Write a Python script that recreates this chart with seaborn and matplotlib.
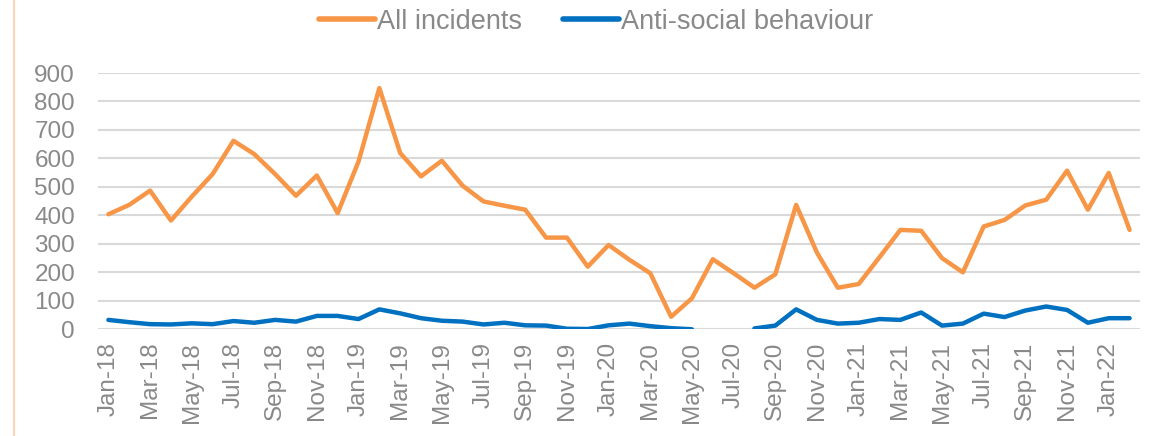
import numpy as np
import pandas as pd
import matplotlib
matplotlib.use("Agg")
import matplotlib.pyplot as plt
from matplotlib.lines import Line2D
import seaborn as sns

# monthly counts, Jan-18 .. Feb-22
months = pd.date_range("2018-01-01", "2022-02-01", freq="MS").strftime("%b-%y").tolist()

all_incidents = [404, 437, 487, 382, 466, 545, 662, 615, 545, 469, 540, 408,
                 589, 847, 619, 537, 592, 504, 449, 434, 420, 322, 322, 220,
                 296, 244, 197, 44, 109, 246, 197, 146, 193, 437, 269, 146,
                 159, 253, 349, 346, 250, 200, 361, 384, 435, 455, 557, 420,
                 549, 349]

anti_social = [33, 25, 18, 17, 21, 18, 29, 23, 33, 27, 47, 47,
               36, 70, 56, 39, 30, 27, 17, 23, 14, 13, 2, 1,
               14, 20, 11, 4, 0, np.nan, np.nan, 3, 13, 70, 33, 20,
               23, 36, 33, 59, 13, 20, 55, 43, 66, 80, 68, 23,
               39, 39]

series_names = ["All incidents", "Anti-social behaviour"]
colours = ["#F79646", "#0070C0"]

df = pd.DataFrame({"idx": range(len(months)), "month": months,
                   series_names[0]: all_incidents, series_names[1]: anti_social})
long = df.melt(id_vars=["idx", "month"], value_vars=series_names,
               var_name="series", value_name="count")

sns.set_style("white")
plt.rcParams["font.family"] = ["Liberation Sans", "DejaVu Sans"]
grey = "#898989"

fig = plt.figure(figsize=(11.51, 4.36), dpi=100)
ax = fig.add_axes([98 / 1151, 1 - 329.3 / 436, (1140 - 98) / 1151, (329.3 - 73) / 436])

for name, col in zip(series_names, colours):
    sub = long[long["series"] == name]
    # draw each unbroken run separately so gaps stay gaps
    ok = sub["count"].notna()
    run_id = (~ok).cumsum()
    for _, seg in sub[ok].groupby(run_id[ok]):
        sns.lineplot(data=seg, x="idx", y="count", color=col, linewidth=3.2,
                     ax=ax, legend=False, solid_capstyle="round")

ax.set_xlim(-0.5, len(months) - 0.5)
ax.set_ylim(0, 900)
ax.set_yticks(range(0, 901, 100))
ax.set_xticks(range(0, len(months), 2))
ax.set_xticklabels(months[::2], rotation=90)
ax.yaxis.grid(True, color="#D9D9D9", linewidth=1.5)
ax.set_axisbelow(True)
ax.tick_params(axis="both", colors=grey, labelsize=17.5, length=0)
ax.tick_params(axis="y", pad=16.5)
ax.tick_params(axis="x", pad=9)
ax.set_xlabel("")
ax.set_ylabel("")
for s in ax.spines.values():
    s.set_visible(False)

handles = [Line2D([0], [0], color=c, linewidth=4) for c in colours]
fig.legend(handles, series_names, loc="center", bbox_to_anchor=(0.518, 0.95),
           ncol=2, frameon=False, fontsize=19.5, labelcolor=grey,
           handlelength=2.07, handletextpad=0.07, columnspacing=1.5)

fig.add_artist(Line2D([14 / 1151, 14 / 1151], [0, 1], color="#FCD5B5",
                      linewidth=1.5, transform=fig.transFigure))

fig.savefig("out.png", dpi=100)
